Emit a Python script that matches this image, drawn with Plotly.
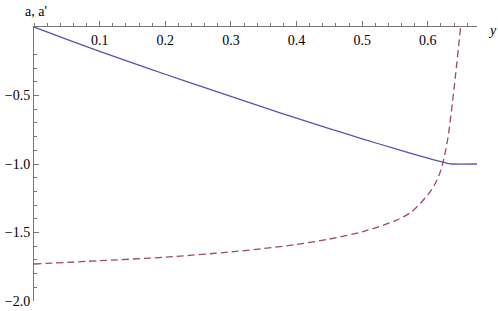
import plotly.graph_objects as go

# Blue solid curve a(y)
a_x = [0, 0.05, 0.1, 0.15, 0.2, 0.25, 0.3, 0.35, 0.4, 0.45, 0.5, 0.55, 0.6, 0.62, 0.63, 0.638, 0.675]
a_y = [0, -0.09, -0.178, -0.262, -0.345, -0.426, -0.506, -0.587, -0.666, -0.742, -0.816, -0.888, -0.957, -0.983, -0.995, -1.0, -1.0]

# Dashed curve a'(y)
ap_x = [0, 0.1, 0.2, 0.3, 0.35, 0.4, 0.45, 0.5, 0.55, 0.575, 0.6, 0.61, 0.62, 0.63, 0.64, 0.65]
ap_y = [-1.73, -1.706, -1.68, -1.642, -1.617, -1.587, -1.548, -1.495, -1.415, -1.35, -1.225, -1.155, -1.045, -0.83, -0.45, 0.0]

x_ticks = [0.1, 0.2, 0.3, 0.4, 0.5, 0.6]
x_ticktext = ["0.1", "0.2", "0.3", "0.4", "0.5", "0.6"]
y_ticks = [0.0, -0.5, -1.0, -1.5, -2.0]
y_ticktext = ["0.0", "\u22120.5", "\u22121.0", "\u22121.5", "\u22122.0"]

fig = go.Figure()
fig.add_trace(go.Scatter(x=a_x, y=a_y, mode="lines",
                         line=dict(color="#5555B0", width=1.3, shape="spline", smoothing=0.6),
                         showlegend=False, hoverinfo="skip"))
fig.add_trace(go.Scatter(x=ap_x, y=ap_y, mode="lines",
                         line=dict(color="#A04479", width=1.3, dash="7px,4px", shape="spline", smoothing=0.8),
                         showlegend=False, hoverinfo="skip"))

font = dict(family="Liberation Serif, Times New Roman, serif", size=14, color="black")
axcol = "#777777"

fig.update_layout(
    width=498, height=311,
    margin=dict(l=34, r=21, t=27, b=10),
    paper_bgcolor="white", plot_bgcolor="white",
    font=font,
    xaxis=dict(range=[0, 0.675], side="top", showgrid=False, zeroline=False, automargin=False,
               showline=True, linecolor=axcol, linewidth=1,
               tickvals=x_ticks, ticktext=x_ticktext,
               ticks="outside", ticklen=5, tickcolor=axcol, tickwidth=1,
               ticklabelposition="inside", ticklabelstandoff=8,
               minor=dict(dtick=0.02, tick0=0, ticks="outside", ticklen=3, tickcolor=axcol, tickwidth=1),
               tickfont=font),
    yaxis=dict(range=[-2.0, 0], showgrid=False, zeroline=False, automargin=False,
               showline=True, linecolor=axcol, linewidth=1,
               tickvals=y_ticks, ticktext=y_ticktext,
               ticks="inside", ticklen=5, tickcolor=axcol, tickwidth=1,
               minor=dict(dtick=0.1, tick0=0, ticks="inside", ticklen=3, tickcolor=axcol, tickwidth=1),
               tickfont=font),
    annotations=[
        dict(text="a, a'", xref="x", yref="y", x=0, y=0, xanchor="center", yanchor="bottom",
             xshift=2, yshift=6, showarrow=False, font=font),
        dict(text="<i>y</i>", xref="paper", yref="y", x=1, y=0, xanchor="left", yanchor="middle",
             xshift=9, yshift=-3, showarrow=False, font=font),
    ],
)

fig.write_html("out.html", config={"displayModeBar": False},
               post_script="document.body.style.margin='0';document.body.style.padding='0';")
